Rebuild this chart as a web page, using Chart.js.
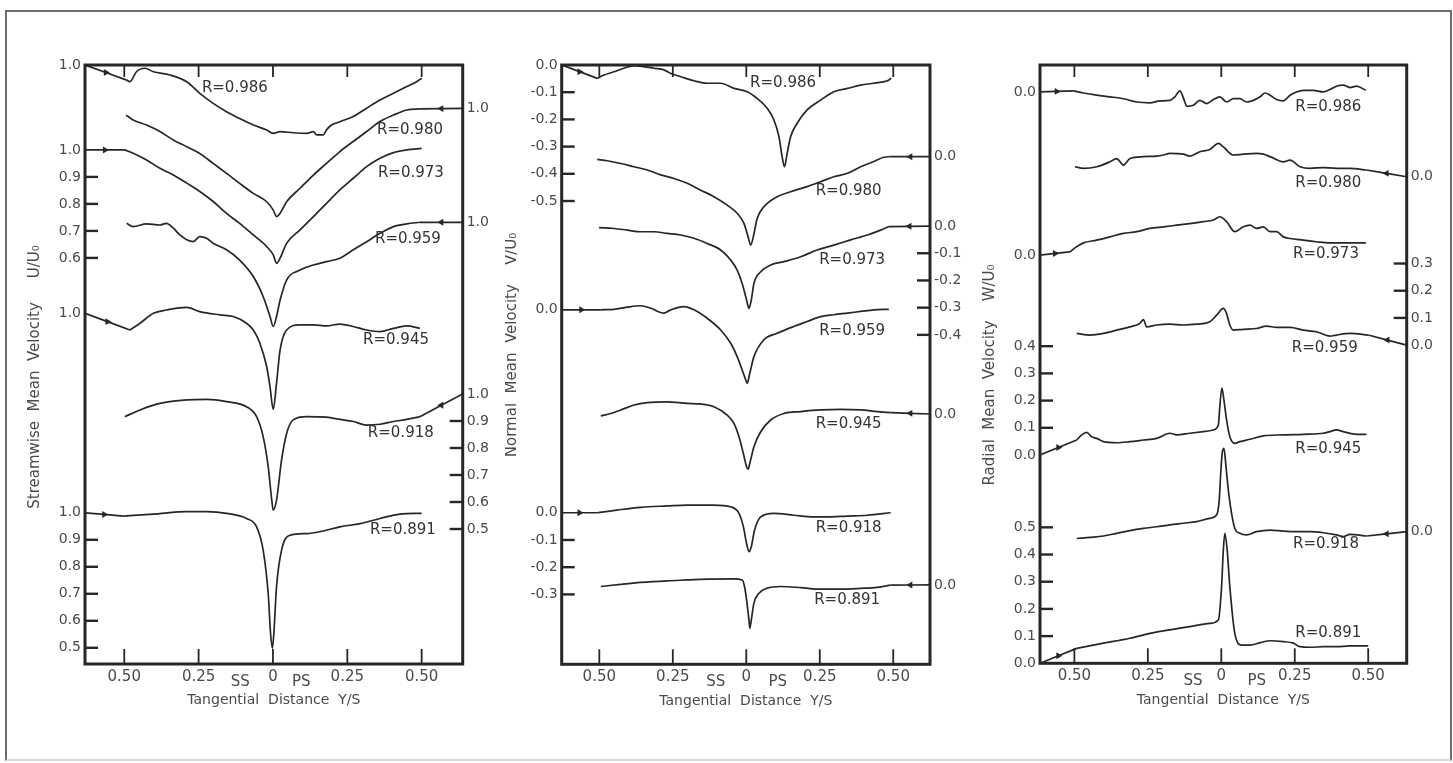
<!DOCTYPE html>
<html>
<head>
<meta charset="utf-8">
<script src="https://cdn.jsdelivr.net/npm/chart.js@4/dist/chart.umd.min.js"></script>
<style>
html,body{margin:0;padding:0;background:#fff;width:1453px;height:763px;overflow:hidden;}
#border{position:absolute;left:5px;top:10px;width:1443px;height:747px;border:2px solid #6e6e6e;border-bottom-color:#d8d8d8;}
.pane{position:absolute;top:0;height:763px;}
</style>
</head>
<body>
<div id="border"></div>
<div class="pane" style="left:0px;width:505px"><canvas id="c1" width="505" height="763"></canvas></div>
<div class="pane" style="left:505px;width:470px"><canvas id="c2" width="470" height="763"></canvas></div>
<div class="pane" style="left:975px;width:478px"><canvas id="c3" width="478" height="763"></canvas></div>
<script>
// ---------- shared categories / tick labels ----------
const RADII = ['0.986','0.980','0.973','0.959','0.945','0.918','0.891'];
const X_TICKS = [-0.5, -0.25, 0, 0.25, 0.5];
const X_TICK_LABELS = ['0.50','0.25','0','0.25','0.50'];

// ---------- Streamwise mean velocity U/U0  [Y/S, U/U0] ----------
const u986 = [[-0.492,0.944],[-0.481,0.938],[-0.459,0.975],[-0.430,0.988],[-0.402,0.975],[-0.346,0.963],[-0.290,0.938],[-0.246,0.895],[-0.201,0.858],[-0.156,0.827],[-0.112,0.802],[-0.066,0.778],[-0.021,0.759],[0.001,0.747],[0.024,0.753],[0.068,0.749],[0.113,0.747],[0.136,0.753],[0.147,0.741],[0.169,0.741],[0.180,0.759],[0.192,0.774],[0.225,0.790],[0.270,0.809],[0.315,0.840],[0.360,0.870],[0.405,0.895],[0.450,0.920],[0.483,0.938],[0.500,0.951]];
const u980 = [[-0.494,0.975],[-0.470,0.957],[-0.425,0.938],[-0.380,0.914],[-0.335,0.883],[-0.290,0.858],[-0.246,0.833],[-0.201,0.796],[-0.156,0.759],[-0.112,0.722],[-0.066,0.685],[-0.021,0.654],[0.001,0.623],[0.012,0.599],[0.024,0.611],[0.046,0.654],[0.091,0.704],[0.136,0.753],[0.180,0.796],[0.225,0.840],[0.270,0.877],[0.315,0.914],[0.360,0.951],[0.405,0.975],[0.450,0.994],[0.494,0.998]];
const u973 = [[-0.498,1.000],[-0.470,0.988],[-0.425,0.963],[-0.380,0.932],[-0.335,0.907],[-0.290,0.877],[-0.246,0.846],[-0.201,0.809],[-0.156,0.765],[-0.112,0.728],[-0.066,0.685],[-0.021,0.642],[0.001,0.611],[0.012,0.580],[0.024,0.599],[0.046,0.654],[0.091,0.704],[0.136,0.753],[0.180,0.802],[0.225,0.852],[0.270,0.895],[0.315,0.938],[0.360,0.969],[0.405,0.990],[0.450,1.000],[0.500,1.006]];
const u959 = [[-0.492,0.996],[-0.470,0.984],[-0.425,0.994],[-0.380,0.990],[-0.358,0.996],[-0.335,0.978],[-0.313,0.953],[-0.290,0.935],[-0.268,0.928],[-0.246,0.947],[-0.223,0.941],[-0.201,0.922],[-0.156,0.898],[-0.112,0.860],[-0.066,0.799],[-0.033,0.725],[-0.010,0.651],[0.001,0.614],[0.012,0.651],[0.024,0.712],[0.046,0.786],[0.091,0.823],[0.136,0.842],[0.180,0.854],[0.225,0.867],[0.270,0.898],[0.315,0.928],[0.360,0.959],[0.405,0.984],[0.450,0.994],[0.494,1.000]];
const u945 = [[-0.481,0.938],[-0.447,0.963],[-0.402,1.000],[-0.358,1.012],[-0.290,1.022],[-0.246,1.006],[-0.178,0.994],[-0.133,0.988],[-0.089,0.963],[-0.066,0.938],[-0.044,0.889],[-0.021,0.802],[-0.010,0.728],[0.001,0.644],[0.012,0.741],[0.024,0.864],[0.046,0.938],[0.091,0.957],[0.136,0.957],[0.180,0.953],[0.225,0.960],[0.270,0.951],[0.315,0.938],[0.360,0.932],[0.405,0.944],[0.450,0.953],[0.494,0.944]];
const u918 = [[-0.498,0.916],[-0.447,0.941],[-0.380,0.965],[-0.290,0.978],[-0.223,0.980],[-0.156,0.972],[-0.089,0.953],[-0.055,0.916],[-0.033,0.842],[-0.016,0.731],[-0.004,0.607],[0.001,0.570],[0.012,0.607],[0.029,0.756],[0.046,0.854],[0.068,0.904],[0.113,0.916],[0.180,0.914],[0.225,0.906],[0.270,0.898],[0.315,0.885],[0.360,0.888],[0.405,0.898],[0.450,0.906],[0.494,0.916]];
const u891 = [[-0.503,0.988],[-0.402,0.995],[-0.290,1.004],[-0.223,1.004],[-0.156,0.998],[-0.089,0.979],[-0.055,0.948],[-0.033,0.862],[-0.016,0.701],[-0.008,0.553],[-0.002,0.498],[0.003,0.553],[0.012,0.726],[0.029,0.862],[0.057,0.917],[0.113,0.923],[0.158,0.930],[0.225,0.948],[0.293,0.960],[0.360,0.979],[0.427,0.995],[0.500,0.998]];

// ---------- Normal mean velocity V/U0 ----------
const v986 = [[-0.507,-0.049],[-0.484,-0.037],[-0.450,-0.025],[-0.416,-0.012],[-0.382,-0.002],[-0.348,-0.006],[-0.314,-0.012],[-0.280,-0.018],[-0.257,-0.031],[-0.223,-0.043],[-0.178,-0.058],[-0.133,-0.067],[-0.087,-0.067],[-0.042,-0.086],[0.003,-0.098],[0.037,-0.123],[0.071,-0.159],[0.094,-0.202],[0.111,-0.263],[0.122,-0.337],[0.130,-0.374],[0.139,-0.325],[0.151,-0.263],[0.173,-0.214],[0.207,-0.165],[0.253,-0.129],[0.298,-0.098],[0.344,-0.086],[0.389,-0.074],[0.434,-0.067],[0.480,-0.058],[0.493,-0.049]];
const v980 = [[-0.507,-0.010],[-0.473,-0.015],[-0.427,-0.025],[-0.382,-0.037],[-0.337,-0.049],[-0.291,-0.067],[-0.246,-0.080],[-0.201,-0.098],[-0.155,-0.123],[-0.110,-0.147],[-0.065,-0.178],[-0.031,-0.208],[-0.008,-0.245],[0.006,-0.294],[0.015,-0.325],[0.024,-0.294],[0.037,-0.227],[0.060,-0.184],[0.105,-0.147],[0.151,-0.129],[0.207,-0.110],[0.253,-0.092],[0.298,-0.074],[0.344,-0.061],[0.389,-0.037],[0.434,-0.018],[0.468,-0.002],[0.491,0.000]];
const v973 = [[-0.501,-0.006],[-0.450,-0.009],[-0.405,-0.015],[-0.359,-0.021],[-0.314,-0.021],[-0.269,-0.027],[-0.223,-0.033],[-0.178,-0.045],[-0.133,-0.064],[-0.087,-0.088],[-0.053,-0.125],[-0.031,-0.162],[-0.014,-0.211],[0.001,-0.272],[0.009,-0.303],[0.017,-0.272],[0.026,-0.211],[0.049,-0.168],[0.083,-0.143],[0.128,-0.131],[0.185,-0.113],[0.241,-0.088],[0.298,-0.070],[0.355,-0.051],[0.412,-0.033],[0.457,-0.015],[0.485,-0.002]];
const v959 = [[-0.495,0.000],[-0.450,0.002],[-0.405,0.010],[-0.359,0.015],[-0.325,0.006],[-0.280,-0.012],[-0.257,0.000],[-0.212,0.012],[-0.178,0.000],[-0.133,-0.031],[-0.087,-0.074],[-0.053,-0.123],[-0.031,-0.172],[-0.014,-0.221],[-0.002,-0.257],[0.003,-0.270],[0.012,-0.233],[0.026,-0.172],[0.060,-0.110],[0.105,-0.086],[0.162,-0.061],[0.207,-0.043],[0.253,-0.025],[0.298,-0.018],[0.344,-0.012],[0.389,-0.006],[0.434,0.000],[0.485,0.002]];
const v945 = [[-0.495,-0.007],[-0.461,0.002],[-0.427,0.015],[-0.382,0.033],[-0.337,0.042],[-0.269,0.045],[-0.201,0.039],[-0.155,0.037],[-0.110,0.027],[-0.065,-0.004],[-0.042,-0.034],[-0.025,-0.083],[-0.010,-0.145],[0.001,-0.194],[0.006,-0.203],[0.012,-0.181],[0.026,-0.120],[0.049,-0.065],[0.083,-0.022],[0.128,0.002],[0.185,0.009],[0.253,0.015],[0.321,0.017],[0.389,0.015],[0.446,0.009],[0.491,0.005]];
const v918 = [[-0.507,0.000],[-0.439,0.010],[-0.359,0.020],[-0.269,0.025],[-0.201,0.028],[-0.110,0.028],[-0.053,0.022],[-0.025,-0.002],[-0.010,-0.051],[0.001,-0.113],[0.009,-0.143],[0.017,-0.125],[0.028,-0.064],[0.049,-0.015],[0.094,-0.002],[0.162,-0.009],[0.230,-0.015],[0.276,-0.015],[0.344,-0.012],[0.412,-0.009],[0.491,0.000]];
const v891 = [[-0.495,-0.006],[-0.427,0.002],[-0.359,0.009],[-0.269,0.015],[-0.201,0.018],[-0.133,0.021],[-0.042,0.022],[-0.014,0.018],[-0.006,-0.006],[0.001,-0.055],[0.009,-0.129],[0.012,-0.159],[0.017,-0.129],[0.026,-0.067],[0.043,-0.031],[0.071,-0.012],[0.117,-0.006],[0.185,-0.010],[0.253,-0.016],[0.321,-0.016],[0.389,-0.013],[0.446,-0.009],[0.491,-0.001]];

// ---------- Radial mean velocity W/U0 ----------
const w986 = [[-0.503,0.004],[-0.469,-0.004],[-0.424,-0.012],[-0.379,-0.018],[-0.333,-0.025],[-0.288,-0.037],[-0.243,-0.040],[-0.209,-0.033],[-0.175,-0.031],[-0.158,-0.018],[-0.141,0.004],[-0.124,-0.037],[-0.118,-0.053],[-0.095,-0.049],[-0.073,-0.031],[-0.050,-0.043],[-0.027,-0.028],[-0.005,-0.018],[0.018,-0.037],[0.041,-0.025],[0.063,-0.025],[0.086,-0.037],[0.109,-0.031],[0.132,-0.018],[0.149,-0.004],[0.166,-0.012],[0.188,-0.028],[0.211,-0.033],[0.234,-0.012],[0.256,0.000],[0.279,0.006],[0.313,0.006],[0.347,0.000],[0.370,0.009],[0.392,0.021],[0.415,0.025],[0.438,0.016],[0.460,0.021],[0.492,0.006]];
const w980 = [[-0.498,0.037],[-0.469,0.031],[-0.424,0.037],[-0.379,0.055],[-0.356,0.067],[-0.333,0.043],[-0.311,0.067],[-0.265,0.074],[-0.220,0.076],[-0.197,0.080],[-0.175,0.086],[-0.129,0.083],[-0.107,0.076],[-0.073,0.092],[-0.039,0.100],[-0.010,0.123],[0.007,0.110],[0.041,0.080],[0.075,0.083],[0.120,0.086],[0.143,0.083],[0.166,0.074],[0.211,0.055],[0.234,0.061],[0.268,0.037],[0.302,0.031],[0.347,0.034],[0.392,0.031],[0.438,0.031],[0.494,0.025]];
const w973 = [[-0.515,0.012],[-0.492,0.031],[-0.469,0.045],[-0.424,0.055],[-0.379,0.067],[-0.333,0.080],[-0.288,0.086],[-0.243,0.098],[-0.197,0.104],[-0.152,0.110],[-0.107,0.116],[-0.061,0.123],[-0.027,0.129],[-0.005,0.141],[0.018,0.123],[0.046,0.086],[0.075,0.104],[0.098,0.110],[0.120,0.098],[0.143,0.104],[0.166,0.086],[0.188,0.086],[0.211,0.067],[0.234,0.061],[0.279,0.055],[0.324,0.049],[0.370,0.045],[0.415,0.045],[0.492,0.045]];
const w959 = [[-0.492,0.043],[-0.447,0.037],[-0.401,0.043],[-0.356,0.055],[-0.311,0.067],[-0.277,0.080],[-0.265,0.094],[-0.254,0.067],[-0.220,0.074],[-0.175,0.077],[-0.129,0.074],[-0.084,0.077],[-0.039,0.086],[-0.016,0.110],[0.007,0.135],[0.018,0.116],[0.029,0.074],[0.041,0.055],[0.075,0.058],[0.120,0.061],[0.154,0.070],[0.188,0.065],[0.234,0.065],[0.279,0.055],[0.324,0.049],[0.370,0.033],[0.392,0.037],[0.438,0.043],[0.500,0.037]];
const w945 = [[-0.492,0.055],[-0.475,0.074],[-0.458,0.083],[-0.441,0.067],[-0.424,0.061],[-0.401,0.049],[-0.356,0.045],[-0.311,0.049],[-0.265,0.055],[-0.220,0.061],[-0.175,0.080],[-0.152,0.074],[-0.107,0.080],[-0.061,0.086],[-0.027,0.092],[-0.010,0.110],[-0.005,0.178],[0.002,0.246],[0.009,0.202],[0.018,0.129],[0.029,0.067],[0.046,0.043],[0.063,0.049],[0.098,0.058],[0.143,0.070],[0.211,0.074],[0.279,0.076],[0.347,0.080],[0.370,0.086],[0.392,0.092],[0.415,0.086],[0.460,0.076],[0.494,0.076]];
const w918 = [[-0.492,-0.025],[-0.447,-0.021],[-0.401,-0.016],[-0.356,-0.006],[-0.311,0.004],[-0.265,0.012],[-0.220,0.018],[-0.175,0.025],[-0.129,0.031],[-0.084,0.037],[-0.039,0.049],[-0.016,0.061],[-0.007,0.116],[-0.002,0.214],[0.003,0.288],[0.009,0.306],[0.016,0.239],[0.024,0.153],[0.035,0.067],[0.046,0.012],[0.063,-0.006],[0.086,-0.012],[0.120,0.000],[0.166,0.006],[0.211,0.002],[0.256,0.000],[0.302,0.000],[0.347,-0.004],[0.392,-0.012],[0.415,-0.018],[0.438,-0.010],[0.494,-0.016]];
const w891 = [[-0.492,0.055],[-0.401,0.074],[-0.311,0.092],[-0.243,0.110],[-0.175,0.123],[-0.107,0.135],[-0.039,0.147],[-0.010,0.159],[0.001,0.282],[0.007,0.417],[0.012,0.478],[0.020,0.417],[0.029,0.282],[0.046,0.110],[0.069,0.067],[0.098,0.067],[0.132,0.076],[0.166,0.083],[0.211,0.080],[0.245,0.074],[0.268,0.061],[0.302,0.059],[0.347,0.061],[0.392,0.061],[0.438,0.064],[0.500,0.064]];

// ---------- reference levels (stacking of each trace, in panel units) ----------
const uRefLevel = [2.2185, 2.058, 1.904, 1.636, 1.299, 1.000, 0.560];
const vRefLevel = [2.203, 1.866, 1.611, 1.303, 0.920, 0.557, 0.292];
const wRefLevel = [2.101, 1.789, 1.501, 1.170, 0.766, 0.484, 0.000];
const uRefSide = ['L','R','L','R','L','R','L'];
const vRefSide = ['L','R','R','L','R','L','R'];
const wRefSide = ['L','R','L','R','L','R','L'];

// ---------- tick labels: [trace index, value, has tick mark] ----------
const uLeftTicks  = [[0,1.0,0],[2,1.0,0],[2,0.9,1],[2,0.8,1],[2,0.7,1],[2,0.6,1],[4,1.0,0],[6,1.0,0],[6,0.9,1],[6,0.8,1],[6,0.7,1],[6,0.6,1],[6,0.5,1]];
const uRightTicks = [[1,1.0,0],[3,1.0,0],[5,1.0,0],[5,0.9,1],[5,0.8,1],[5,0.7,1],[5,0.6,1],[5,0.5,1]];
const vLeftTicks  = [[0,0,0],[0,-0.1,1],[0,-0.2,1],[0,-0.3,1],[0,-0.4,1],[0,-0.5,1],[3,0,0],[5,0,0],[5,-0.1,1],[5,-0.2,1],[5,-0.3,1]];
const vRightTicks = [[1,0,0],[2,0,0],[2,-0.1,1],[2,-0.2,1],[2,-0.3,1],[2,-0.4,1],[4,0,0],[6,0,0]];
const wLeftTicks  = [[0,0,0],[2,0,0],[4,0,0],[4,0.1,1],[4,0.2,1],[4,0.3,1],[4,0.4,1],[6,0,0],[6,0.1,1],[6,0.2,1],[6,0.3,1],[6,0.4,1],[6,0.5,1]];
const wRightTicks = [[1,0,0],[3,0,0],[3,0.1,1],[3,0.2,1],[3,0.3,1],[5,0,0]];

// ---------- "R=" label anchors [Y/S, panel units] ----------
const uLabelPos = [[-0.239,2.133],[0.350,1.978],[0.353,1.819],[0.343,1.574],[0.303,1.200],[0.319,0.856],[0.326,0.496]];
const vLabelPos = [[0.013,2.136],[0.236,1.738],[0.248,1.486],[0.248,1.223],[0.236,0.883],[0.236,0.500],[0.231,0.236]];
const wLabelPos = [[0.252,2.044],[0.252,1.767],[0.244,1.505],[0.240,1.158],[0.252,0.787],[0.244,0.439],[0.252,0.110]];

// ---------- layout / style ----------
const INK = '#262626';
const TXT = '#4a4a4a';
const FONT = '"DejaVu Sans", sans-serif';
const AXW_L = 45, AXW_R = 38, AXH = 45;

const panels = [
  {id:'c1', cx:0,   cw:505, frame:{l:85,    t:65, r:462.7, b:664},   xMin:-0.632, xMax:0.638, yMax:2.2185,
   curves:[u986,u980,u973,u959,u945,u918,u891], ref:uRefLevel, refVal:1.0, side:uRefSide,
   left:uLeftTicks, right:uRightTicks, labels:uLabelPos,
   title:'Streamwise  Mean  Velocity     U/U\u2080', titleY:377, ssX:-0.11, psX:0.095},
  {id:'c2', cx:505, cw:470, frame:{l:561.7, t:65, r:930,   b:664.3}, xMin:-0.628, xMax:0.625, yMax:2.203,
   curves:[v986,v980,v973,v959,v945,v918,v891], ref:vRefLevel, refVal:0.0, side:vRefSide,
   left:vLeftTicks, right:vRightTicks, labels:vLabelPos,
   title:'Normal  Mean  Velocity    V/U\u2080', titleY:345, ssX:-0.104, psX:0.107},
  {id:'c3', cx:975, cw:478, frame:{l:1040,  t:65, r:1406.7,b:663.3}, xMin:-0.617, xMax:0.631, yMax:2.200,
   curves:[w986,w980,w973,w959,w945,w918,w891], ref:wRefLevel, refVal:0.0, side:wRefSide,
   left:wLeftTicks, right:wRightTicks, labels:wLabelPos,
   title:'Radial  Mean  Velocity    W/U\u2080', titleY:375, ssX:-0.096, psX:0.121}
];

function fmt(v){ return (Math.abs(v) < 1e-9 ? 0 : v).toFixed(1); }

function makePlugin(P){
  const off = i => P.ref[i] - P.refVal;
  return {
    id: 'figure_' + P.id,
    afterDraw(chart){
      const {ctx, chartArea:a, scales:{x, y}} = chart;
      const line = (x1,y1,x2,y2) => { ctx.beginPath(); ctx.moveTo(x1,y1); ctx.lineTo(x2,y2); ctx.stroke(); };
      ctx.save();
      ctx.strokeStyle = INK;
      ctx.lineWidth = 3;
      ctx.strokeRect(a.left, a.top, a.right - a.left, a.bottom - a.top);
      ctx.lineWidth = 1.8;
      X_TICKS.forEach(v => {
        const px = x.getPixelForValue(v);
        line(px, a.bottom, px, a.bottom - 15);
        line(px, a.top, px, a.top + 12);
      });
      ctx.lineWidth = 2.4;
      P.left.forEach(t => { if (t[2]) { const py = y.getPixelForValue(t[1] + off(t[0])); line(a.left, py, a.left + 13, py); } });
      P.right.forEach(t => { if (t[2]) { const py = y.getPixelForValue(t[1] + off(t[0])); line(a.right, py, a.right - 13, py); } });
      ctx.fillStyle = TXT;
      ctx.font = '15px ' + FONT;
      ctx.textAlign = 'center';
      ctx.textBaseline = 'middle';
      ctx.fillText('SS', x.getPixelForValue(P.ssX), a.bottom + 18);
      ctx.fillText('PS', x.getPixelForValue(P.psX), a.bottom + 18);
      ctx.fillStyle = '#333';
      ctx.textAlign = 'left';
      P.labels.forEach((p, i) => ctx.fillText('R=' + RADII[i], x.getPixelForValue(p[0]), y.getPixelForValue(p[1])));
      ctx.fillStyle = TXT;
      ctx.font = '15px ' + FONT;
      ctx.translate(a.left - 50, P.titleY);
      ctx.rotate(-Math.PI / 2);
      ctx.textAlign = 'center';
      ctx.fillText(P.title, 0, 0);
      ctx.restore();
    }
  };
}

function build(P){
  const off = i => P.ref[i] - P.refVal;
  const datasets = [];
  P.curves.forEach((c, i) => {
    const pts = c.map(([xv, v]) => ({x: xv, y: v + off(i)}));
    datasets.push({
      label: 'R=' + RADII[i], data: pts, borderColor: INK, borderWidth: 1.7,
      pointRadius: 0, cubicInterpolationMode: 'monotone', tension: 0.4, fill: false
    });
    // reference-level arrow from the frame to the trace end
    const end = P.side[i] === 'L' ? pts[0] : pts[pts.length - 1];
    const start = {x: P.side[i] === 'L' ? P.xMin : P.xMax, y: P.ref[i]};
    const mid = {x: (start.x + end.x) / 2, y: (start.y + end.y) / 2};
    datasets.push({
      label: 'ref ' + RADII[i], data: [start, mid, end], borderColor: INK, borderWidth: 1.7,
      tension: 0, pointRadius: [0, 4, 0], pointStyle: 'triangle',
      pointRotation: P.side[i] === 'L' ? 90 : -90,
      pointBackgroundColor: INK, pointBorderColor: INK, pointBorderWidth: 0
    });
  });
  const f = P.frame;
  const tickFont = {family: FONT, size: 14};
  new Chart(document.getElementById(P.id), {
    type: 'line',
    data: {datasets},
    options: {
      responsive: false, maintainAspectRatio: false, animation: false, devicePixelRatio: 1,
      layout: {padding: {
        left: f.l - P.cx - AXW_L, right: P.cx + P.cw - f.r - AXW_R,
        top: f.t, bottom: 763 - f.b - AXH }},
      plugins: {legend: {display: false}, tooltip: {enabled: false}},
      scales: {
        x: {type: 'linear', min: P.xMin, max: P.xMax,
            afterBuildTicks: s => { s.ticks = X_TICKS.map(v => ({value: v})); },
            afterFit: s => { s.height = AXH; },
            ticks: {autoSkip: false, maxRotation: 0, padding: 4, color: TXT,
                    font: {family: FONT, size: 15}, callback: (v, i) => X_TICK_LABELS[i]},
            grid: {display: false, drawTicks: false}, border: {display: false},
            title: {display: true, text: 'Tangential  Distance  Y/S', color: TXT,
                    font: {family: FONT, size: 14}, padding: {top: 0, bottom: 0}}},
        y: {type: 'linear', position: 'left', min: 0, max: P.yMax,
            afterBuildTicks: s => { s.ticks = P.left.map(t => ({value: t[1] + off(t[0])})); },
            afterFit: s => { s.width = AXW_L; },
            ticks: {autoSkip: false, padding: 4, color: TXT, font: tickFont,
                    callback: (v, i) => fmt(P.left[i][1])},
            grid: {display: false, drawTicks: false}, border: {display: false}},
        y2: {type: 'linear', position: 'right', min: 0, max: P.yMax,
            afterBuildTicks: s => { s.ticks = P.right.map(t => ({value: t[1] + off(t[0])})); },
            afterFit: s => { s.width = AXW_R; },
            ticks: {autoSkip: false, padding: 4, color: TXT, font: tickFont,
                    callback: (v, i) => fmt(P.right[i][1])},
            grid: {display: false, drawTicks: false}, border: {display: false}}
      }
    },
    plugins: [makePlugin(P)]
  });
}

panels.forEach(build);
</script>
</body>
</html>
